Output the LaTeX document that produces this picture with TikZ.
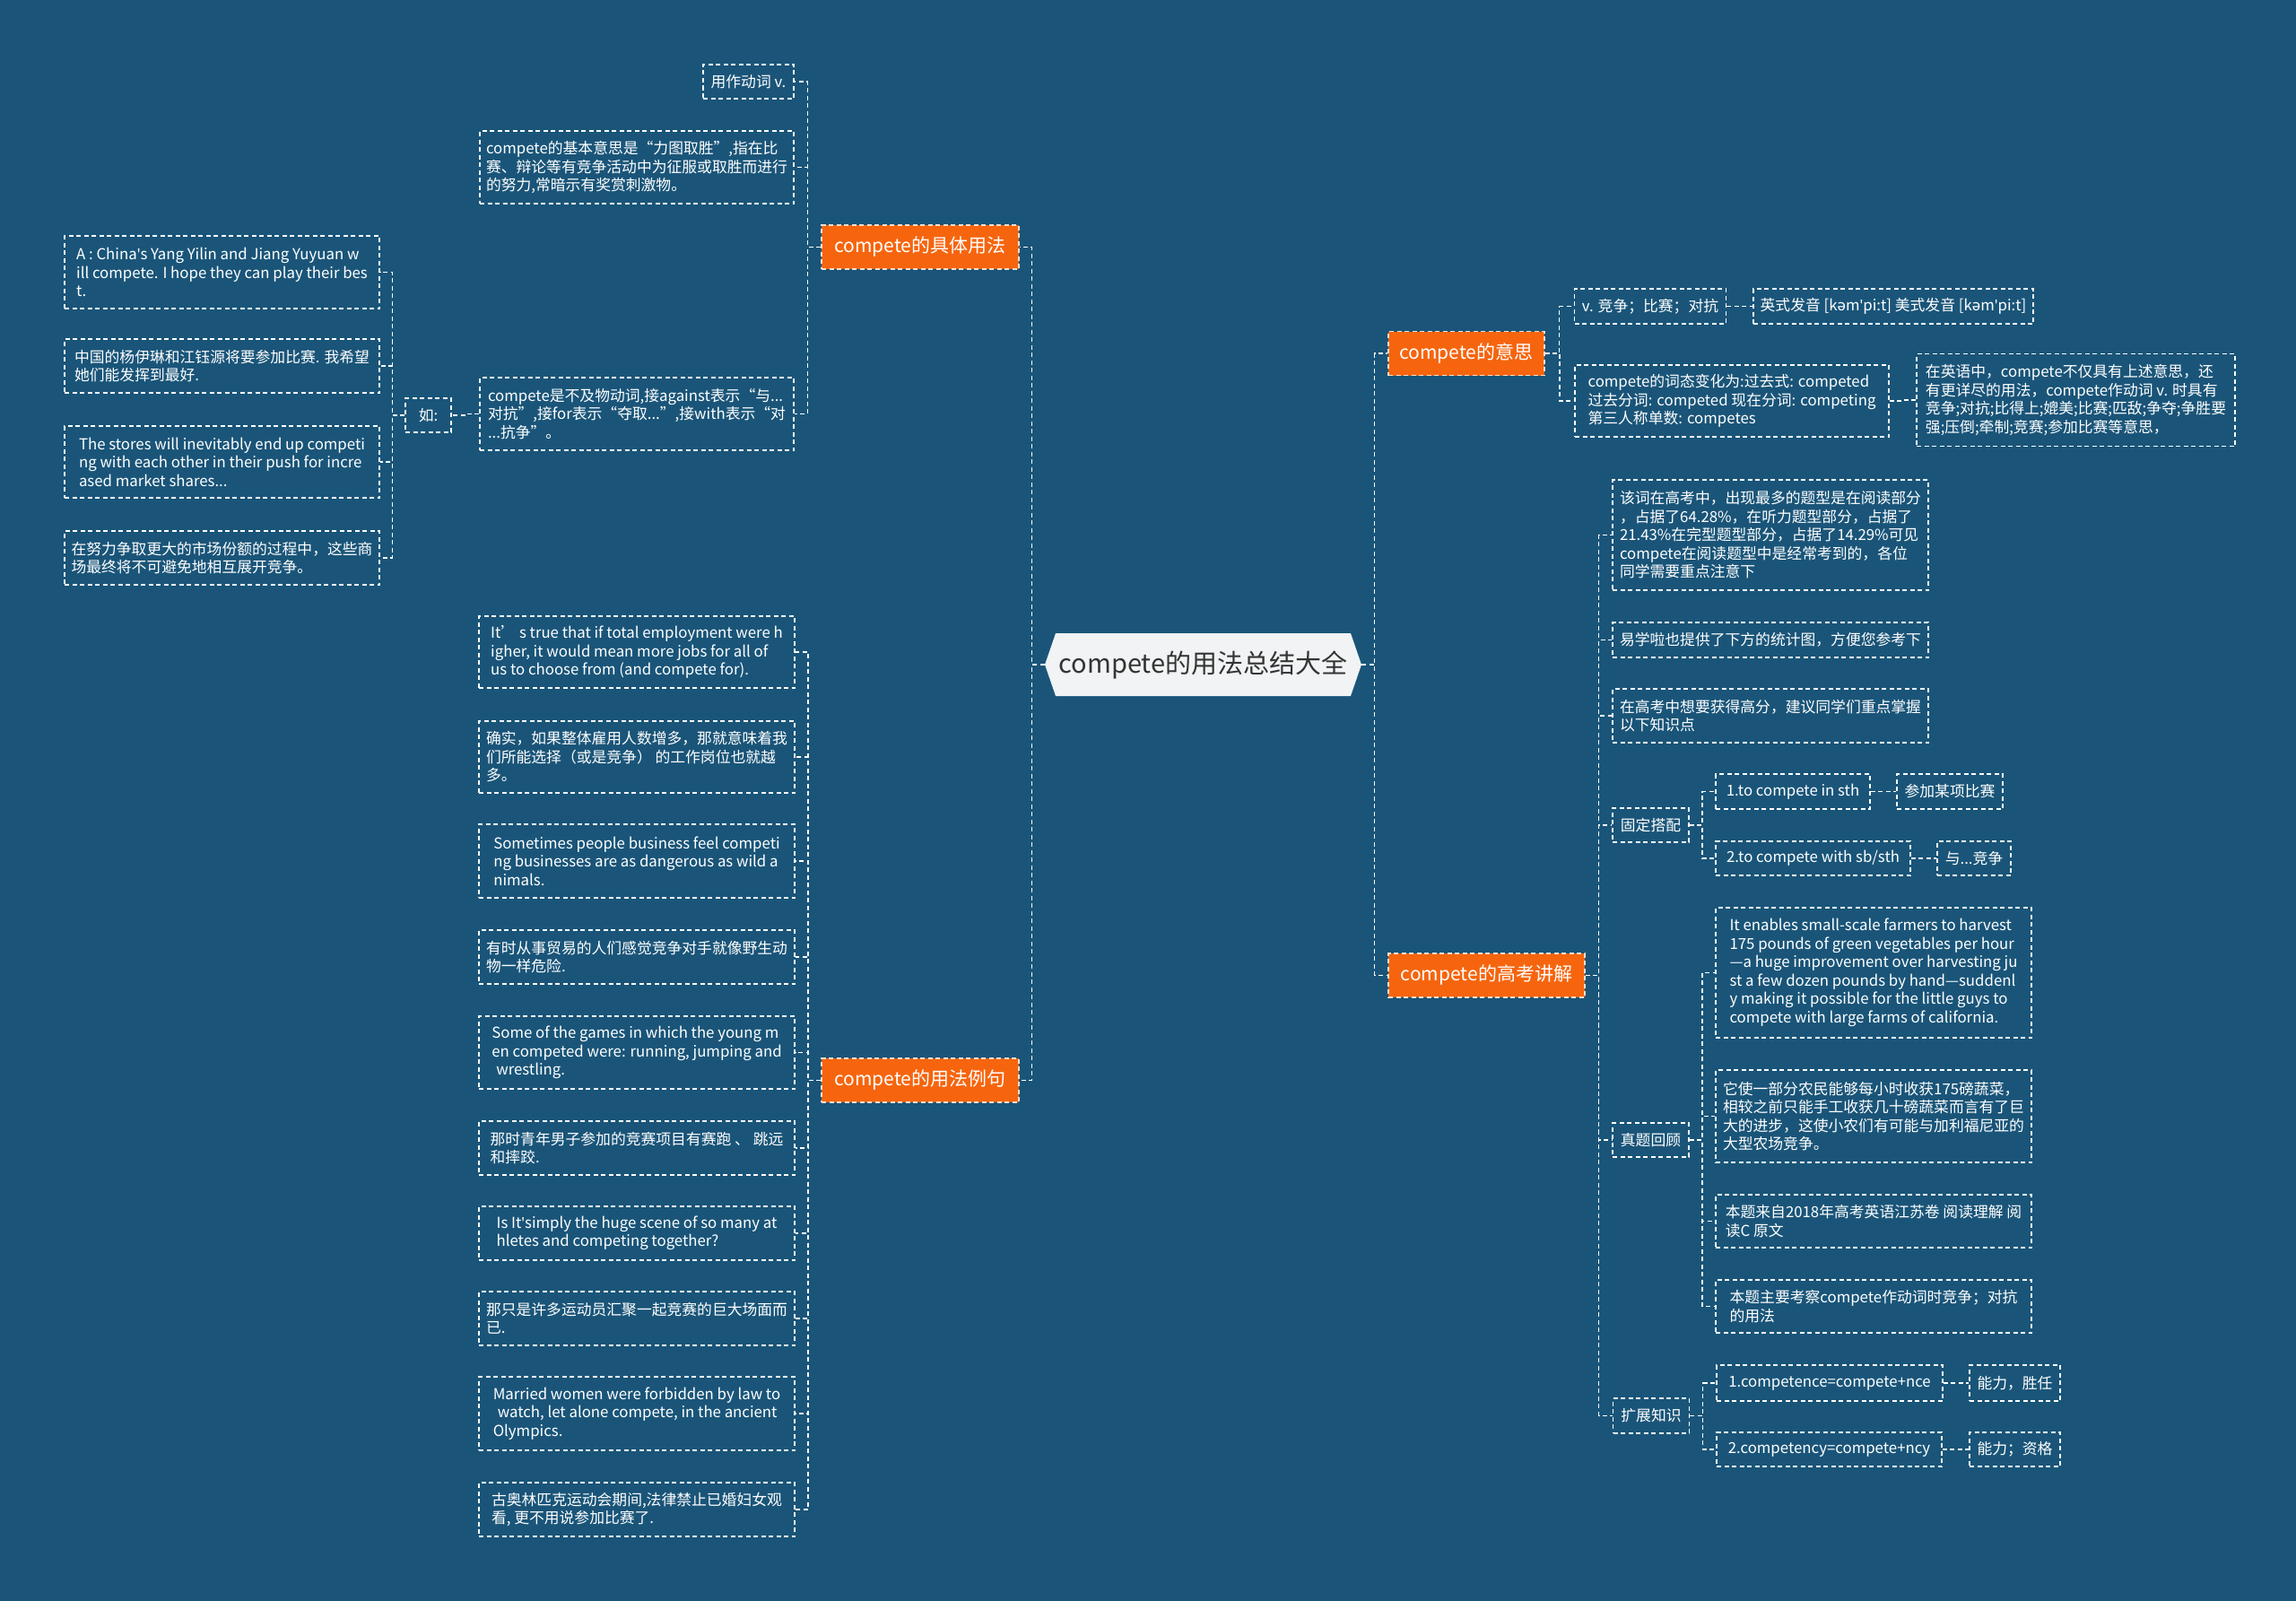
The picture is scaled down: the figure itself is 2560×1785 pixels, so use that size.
\documentclass[tikz,border=0pt]{standalone}
\usepackage{fontspec}
\setmainfont{Noto Sans CJK SC}
\newfontfamily\ipafont{Noto Sans}
\usetikzlibrary{calc,shapes.symbols}
\definecolor{bgblue}{HTML}{1A5579}
\definecolor{hlorange}{HTML}{F6650E}
\definecolor{rootgray}{HTML}{F1F3F4}
\definecolor{roottext}{HTML}{333333}
\newcommand{\apos}{{\ipafont\textquotesingle}}

\begin{document}
\begin{tikzpicture}
 [x=1pt, y=-1pt,
  wh/.style 2 args={minimum width=#1, minimum height=#2},
  root node/.style={shape=signal, signal to=west and east, signal pointer angle=142, fill=rootgray, text=roottext, inner sep=0pt, font=\fontsize{29}{34}\selectfont},
  branch node/.style={rectangle, fill=hlorange, draw=white!80!hlorange, line width=1.3pt, dash pattern=on 5pt off 3.5pt, text=white, inner sep=0pt, font=\fontsize{21}{25}\selectfont},
  leaf node/.style={rectangle, draw=white, line width=1.3pt, dash pattern=on 5pt off 3.5pt, text=white, align=left, inner sep=0pt, font=\fontsize{16.8}{20.5}\selectfont},
  link/.style={draw=white, line width=1.3pt, dash pattern=on 5pt off 3.5pt, to path={-| ($(\tikztostart)!0.5!(\tikztotarget)$) |- (\tikztotarget)}}]

\useasboundingbox (0,0) rectangle (2560,1785);
\fill[bgblue] (0,0) rectangle (2560,1785);

% centre
\node[root node, wh={353}{70}] (root) at (1341.5,741) {compete的用法总结大全};

% main branches
\node[branch node, wh={220}{49}] (b1) at (1026,275.5) {compete的具体用法};
\node[branch node, wh={220}{49}] (b2) at (1026,1204.5) {compete的用法例句};
\node[branch node, wh={174}{49}] (b3) at (1635,394) {compete的意思};
\node[branch node, wh={219}{49}] (b4) at (1657.5,1087.5) {compete的高考讲解};

% compete的具体用法
\node[leaf node, wh={101}{38}] (l1) at (834.5,91) {用作动词 v.};
\node[leaf node, wh={350}{81}] (l2) at (710,186.5) {compete的基本意思是“力图取胜”,指在比\\赛、辩论等有竞争活动中为征服或取胜而进行\\的努力,常暗示有奖赏刺激物。};
\node[leaf node, wh={350}{81}] (l3) at (710,461.5) {compete是不及物动词,接against表示“与...\\对抗”,接for表示“夺取...”,接with表示“对\\...抗争”。};
\node[leaf node, wh={51}{38}] (ru) at (477.5,463) {如:};
\node[leaf node, wh={351}{81}] (a1) at (247.5,303.5) {A : China\apos s Yang Yilin and Jiang Yuyuan w\\ill compete. I hope they can play their bes\\t.};
\node[leaf node, wh={351}{60}] (a2) at (247.5,408) {中国的杨伊琳和江钰源将要参加比赛. 我希望\\她们能发挥到最好.};
\node[leaf node, wh={351}{80}] (a3) at (247.5,515) {The stores will inevitably end up competi\\ng with each other in their push for incre\\ased market shares...};
\node[leaf node, wh={351}{60}] (a4) at (247.5,622) {在努力争取更大的市场份额的过程中，这些商\\场最终将不可避免地相互展开竞争。};

% compete的用法例句
\node[leaf node, wh={352}{80}] (e1) at (710,727) {It’ s true that if total employment were h\\igher, it would mean more jobs for all of\\us to choose from (and compete for).};
\node[leaf node, wh={352}{80}] (e2) at (710,844) {确实，如果整体雇用人数增多，那就意味着我\\们所能选择（或是竞争） 的工作岗位也就越\\多。};
\node[leaf node, wh={352}{82}] (e3) at (710,960) {Sometimes people business feel competi\\ng businesses are as dangerous as wild a\\nimals.};
\node[leaf node, wh={352}{60}] (e4) at (710,1067) {有时从事贸易的人们感觉竞争对手就像野生动\\物一样危险.};
\node[leaf node, wh={352}{81}] (e5) at (710,1173.5) {Some of the games in which the young m\\en competed were: running, jumping and\\\hspace*{0.3em}wrestling.};
\node[leaf node, wh={352}{60}] (e6) at (710,1280) {那时青年男子参加的竞赛项目有赛跑 、 跳远\\和摔跤.};
\node[leaf node, wh={352}{60}] (e7) at (710,1375) {Is It\apos simply the huge scene of so many at\\hletes and competing together?};
\node[leaf node, wh={352}{60}] (e8) at (710,1470) {那只是许多运动员汇聚一起竞赛的巨大场面而\\已.};
\node[leaf node, wh={352}{82}] (e9) at (710,1576) {Married women were forbidden by law to\\\hspace*{0.3em}watch, let alone compete, in the ancient\\Olympics.};
\node[leaf node, wh={352}{60}] (e10) at (710,1683) {古奥林匹克运动会期间,法律禁止已婚妇女观\\看, 更不用说参加比赛了.};

% compete的意思
\node[leaf node, wh={169}{39}] (r1) at (1840,341.5) {v. 竞争；比赛；对抗};
\node[leaf node, wh={312}{39}] (r2) at (2111,341.5) {英式发音 [k{\ipafont ə}m\apos pi:t] 美式发音 [k{\ipafont ə}m\apos pi:t]};
\node[leaf node, wh={350}{80}] (r3) at (1931,447) {compete的词态变化为:过去式: competed\\过去分词: competed 现在分词: competing\\第三人称单数: competes};
\node[leaf node, wh={355}{103}] (r4) at (2314.5,446) {在英语中，compete不仅具有上述意思，还\\有更详尽的用法，compete作动词 v. 时具有\\竞争;对抗;比得上;媲美;比赛;匹敌;争夺;争胜要\\强;压倒;牵制;竞赛;参加比赛等意思，};

% compete的高考讲解
\node[leaf node, wh={352}{123}] (g1) at (1974,596.5) {该词在高考中，出现最多的题型是在阅读部分\\，占据了64.28\%，在听力题型部分，占据了\\21.43\%在完型题型部分，占据了14.29\%可见\\compete在阅读题型中是经常考到的，各位\\同学需要重点注意下};
\node[leaf node, wh={352}{39}] (g2) at (1974,713.5) {易学啦也提供了下方的统计图，方便您参考下};
\node[leaf node, wh={352}{60}] (g3) at (1974,798) {在高考中想要获得高分，建议同学们重点掌握\\以下知识点};
\node[leaf node, wh={85}{38}] (g4) at (1840.5,920) {固定搭配};
\node[leaf node, wh={172}{39}] (g4a) at (1999,882.5) {1.to compete in sth};
\node[leaf node, wh={118}{39}] (g4b) at (2174,882.5) {参加某项比赛};
\node[leaf node, wh={217}{38}] (g4c) at (2021.5,957) {2.to compete with sb/sth};
\node[leaf node, wh={82}{38}] (g4d) at (2201,957) {与...竞争};
\node[leaf node, wh={85}{38}] (g5) at (1840.5,1271) {真题回顾};
\node[leaf node, wh={352}{145}] (g5a) at (2089,1084.5) {It enables small-scale farmers to harvest\\175 pounds of green vegetables per hour\\—a huge improvement over harvesting ju\\st a few dozen pounds by hand—suddenl\\y making it possible for the little guys to\\compete with large farms of california.};
\node[leaf node, wh={352}{103}] (g5b) at (2089,1244.5) {它使一部分农民能够每小时收获175磅蔬菜，\\相较之前只能手工收获几十磅蔬菜而言有了巨\\大的进步，这使小农们有可能与加利福尼亚的\\大型农场竞争。};
\node[leaf node, wh={352}{59}] (g5c) at (2089,1361.5) {本题来自2018年高考英语江苏卷 阅读理解 阅\\读C 原文};
\node[leaf node, wh={352}{59}] (g5d) at (2089,1456.5) {本题主要考察compete作动词时竞争；对抗\\的用法};
\node[leaf node, wh={85}{39}] (g6) at (1841,1578.5) {扩展知识};
\node[leaf node, wh={252}{40}] (g6a) at (2040,1542) {1.competence=compete+nce};
\node[leaf node, wh={101}{40}] (g6b) at (2246.5,1542) {能力，胜任};
\node[leaf node, wh={251}{38}] (g6c) at (2039.5,1616) {2.competency=compete+ncy};
\node[leaf node, wh={101}{38}] (g6d) at (2246.5,1616) {能力；资格};

% connectors
\path (root.west) edge[link] (b1.east) edge[link] (b2.east)
      (root.east) edge[link] (b3.west) edge[link] (b4.west);
\path (b1.west) edge[link] (l1.east) edge[link] (l2.east) edge[link] (l3.east)
      (l3.west) edge[link] (ru.east);
\path (ru.west) edge[link] (a1.east) edge[link] (a2.east) edge[link] (a3.east) edge[link] (a4.east);
\foreach \n in {e1,e2,e3,e4,e5,e6,e7,e8,e9,e10}
  \path (b2.west) edge[link] (\n.east);
\path (b3.east) edge[link] (r1.west) edge[link] (r3.west)
      (r1.east) edge[link] (r2.west)
      (r3.east) edge[link] (r4.west);
\foreach \n in {g1,g2,g3,g4,g5,g6}
  \path (b4.east) edge[link] (\n.west);
\path (g4.east) edge[link] (g4a.west) edge[link] (g4c.west)
      (g4a.east) edge[link] (g4b.west)
      (g4c.east) edge[link] (g4d.west);
\foreach \n in {g5a,g5b,g5c,g5d}
  \path (g5.east) edge[link] (\n.west);
\path (g6.east) edge[link] (g6a.west) edge[link] (g6c.west)
      (g6a.east) edge[link] (g6b.west)
      (g6c.east) edge[link] (g6d.west);

\end{tikzpicture}
\end{document}
